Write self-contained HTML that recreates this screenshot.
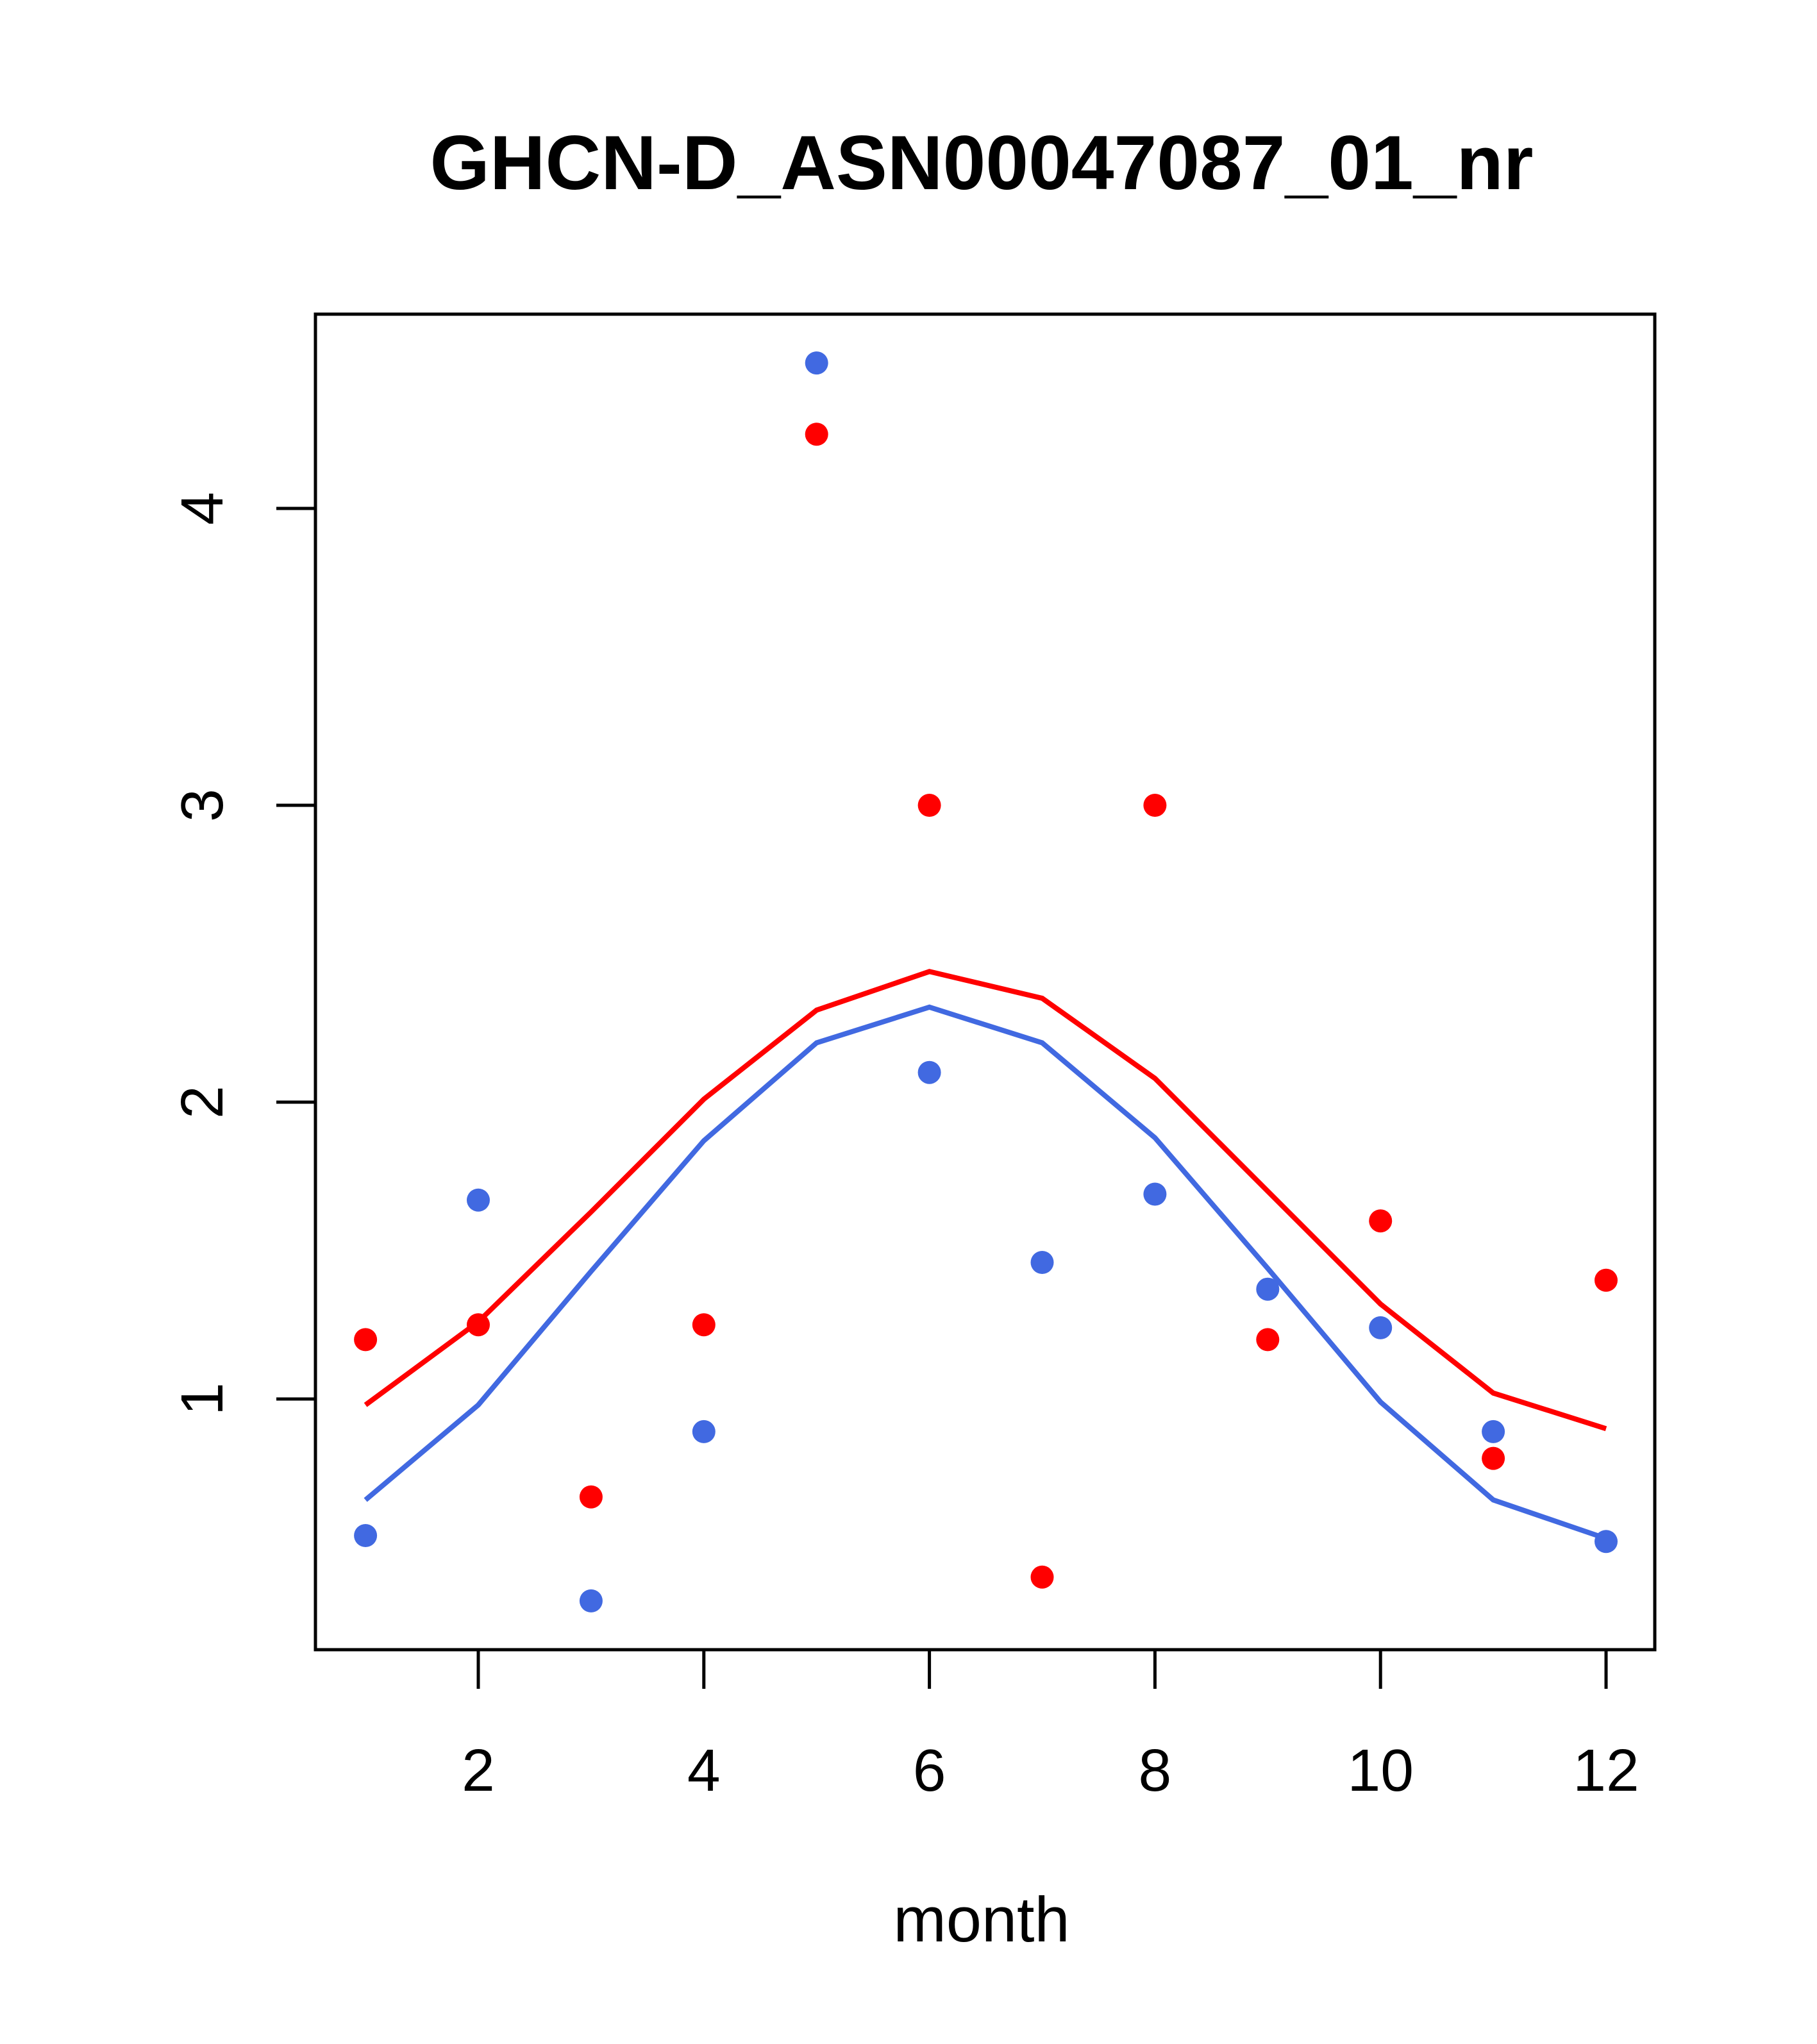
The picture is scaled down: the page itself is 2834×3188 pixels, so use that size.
<!DOCTYPE html>
<html><head><meta charset="utf-8"><style>html,body{margin:0;padding:0;background:#fff}svg{display:block}text{font-family:"Liberation Sans",sans-serif}</style></head>
<body>
<svg id="chart" width="2834" height="3188" viewBox="0 0 2834 3188" xmlns="http://www.w3.org/2000/svg">
<rect width="2834" height="3188" fill="#fff"/>
<text x="1531" y="295" font-size="120" font-weight="bold" text-anchor="middle">GHCN-D_ASN00047087_01_nr</text>
<rect x="492" y="490" width="2089" height="2083" fill="none" stroke="#000" stroke-width="5"/>
<text x="1531" y="3028" font-size="99" text-anchor="middle">month</text>
<g id="axes"></g><g id="series"></g>
</svg>
<script>
const months=[1,2,3,4,5,6,7,8,9,10,11,12];
const redPoints=[1.2,1.25,0.67,1.25,4.25,3.0,0.4,3.0,1.2,1.6,0.8,1.4];
const bluePoints=[0.54,1.67,0.32,0.89,4.49,2.1,1.46,1.69,1.37,1.24,0.89,0.52];
const redLine=[0.98,1.26,1.63,2.01,2.31,2.44,2.35,2.08,1.70,1.32,1.02,0.90];
const blueLine=[0.66,0.98,1.43,1.87,2.20,2.32,2.20,1.88,1.44,0.99,0.66,0.53];
const xTicks=[2,4,6,8,10,12];
const yTicks=[1,2,3,4];
const NS="http://www.w3.org/2000/svg";
const xs=m=>746+(m-2)*175.9;
const ys=v=>2182-(v-1)*463;
const axes=document.getElementById('axes'),series=document.getElementById('series');
function mk(tag,attrs,parent){const e=document.createElementNS(NS,tag);for(const k in attrs)e.setAttribute(k,attrs[k]);parent.appendChild(e);return e;}
xTicks.forEach(t=>{
 const l=mk('line',{x1:xs(t),x2:xs(t),y1:2573,y2:2634,stroke:'#000','stroke-width':5},axes);
 
 
 const tx=mk('text',{x:xs(t),y:2793,'font-size':93,'text-anchor':'middle'},axes);tx.textContent=t;
 
 
});
mk('line',{x1:xs(2),x2:xs(12),y1:2573,y2:2573,stroke:'#000','stroke-width':5},axes);
yTicks.forEach(t=>{
 const l=mk('line',{x1:431,x2:492,y1:ys(t),y2:ys(t),stroke:'#000','stroke-width':5},axes);
 
 
 const tx=mk('text',{x:0,y:0,'font-size':93,'text-anchor':'middle',transform:`translate(347,${ys(t)}) rotate(-90)`},axes);tx.textContent=t;
 
 
});
function line(vals,color,name){
 const p=mk('polyline',{points:vals.map((v,i)=>xs(months[i])+','+ys(v)).join(' '),fill:'none',stroke:color,'stroke-width':8},series);
 
 
}
function pts(vals,color,name){
 vals.forEach((v,i)=>{const c=mk('circle',{cx:xs(months[i]),cy:ys(v),r:18,fill:color},series);
 
 });
}
line(redLine,'#ff0000','red-line');
line(blueLine,'#4169e1','blue-line');
pts(bluePoints,'#4169e1','blue-point');
pts(redPoints,'#ff0000','red-point');
</script>
</body></html>
